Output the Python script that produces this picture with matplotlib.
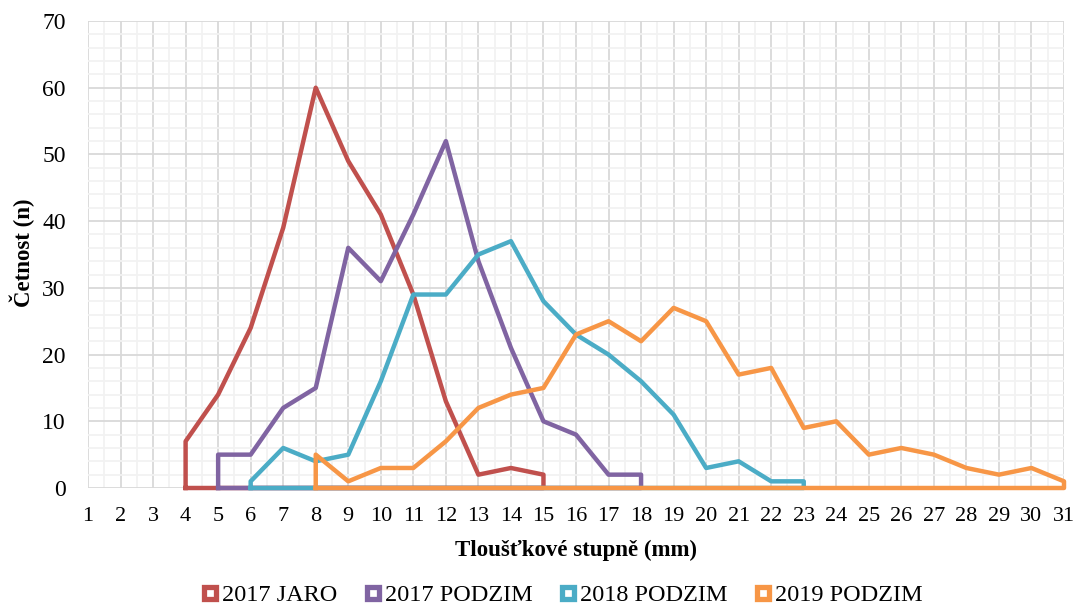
import matplotlib.pyplot as plt
from matplotlib.ticker import MultipleLocator

plt.rcParams['font.family'] = ['Liberation Serif', 'DejaVu Serif']

# data
jaro17_x = list(range(4, 16))
jaro17_y = [7, 14, 24, 39, 60, 49, 41, 29, 13, 2, 3, 2]

podzim17_x = list(range(5, 19))
podzim17_y = [5, 5, 12, 15, 36, 31, 41, 52, 34, 21, 10, 8, 2, 2]

podzim18_x = list(range(6, 24))
podzim18_y = [1, 6, 4, 5, 16, 29, 29, 35, 37, 28, 23, 20, 16, 11, 3, 4, 1, 1]

podzim19_x = list(range(8, 32))
podzim19_y = [5, 1, 3, 3, 7, 12, 14, 15, 23, 25, 22, 27, 25, 17, 18, 9, 10, 5, 6, 5, 3, 2, 3, 1]

series = [
    ('2017 JARO', jaro17_x, jaro17_y, '#C0504D'),
    ('2017 PODZIM', podzim17_x, podzim17_y, '#8064A2'),
    ('2018 PODZIM', podzim18_x, podzim18_y, '#4BACC6'),
    ('2019 PODZIM', podzim19_x, podzim19_y, '#F79646'),
]

fig = plt.figure(figsize=(10.78, 6.05), dpi=100)
ax = fig.add_axes([88 / 1078, 1 - 488 / 605, (1064 - 88) / 1078, (488 - 21) / 605])

handles = []
for label, xs, ys, col in series:
    # outline is closed down to zero, like the original
    px = [xs[0]] + xs + [xs[-1], xs[0]]
    py = [0] + ys + [0, 0]
    ax.plot(px, py, color=col, lw=3.2, solid_joinstyle='round', clip_on=False, zorder=3)
    h, = ax.plot([], [], ls='none', marker='s', ms=8.5, mfc='white', mec=col, mew=3.8, label=label)
    handles.append(h)

ax.set_xlim(1, 31)
ax.set_ylim(0, 70)
ax.xaxis.set_major_locator(MultipleLocator(1))
ax.xaxis.set_minor_locator(MultipleLocator(0.5))
ax.yaxis.set_major_locator(MultipleLocator(10))
ax.yaxis.set_minor_locator(MultipleLocator(2))
ax.grid(which='major', color='#D9D9D9', lw=1.3, zorder=0)
ax.grid(which='minor', color='#F2F2F2', lw=1.3, zorder=0)
ax.set_axisbelow(True)
for s in ax.spines.values():
    s.set_visible(False)
ax.tick_params(which='both', length=0, colors='black')
ax.tick_params(axis='x', labelsize=16, pad=14)
ax.tick_params(axis='y', labelsize=17, pad=16)

ax.set_xlabel('Tloušťkové stupně (mm)', fontsize=16.5, fontweight='bold', va='center')
ax.xaxis.set_label_coords(0.5, -62 / 467)
ax.set_ylabel('Četnost (n)', fontsize=16.5, fontweight='bold', va='center')
ax.yaxis.set_label_coords(-66 / 976, 0.503)

fig.legend(handles=handles, loc='center', bbox_to_anchor=(562 / 1078, 1 - 595 / 605), ncol=4,
           frameon=False, fontsize=17.5, handlelength=0.7, handletextpad=0.15,
           columnspacing=1.1, borderpad=0)

fig.savefig('out.png', dpi=100)
